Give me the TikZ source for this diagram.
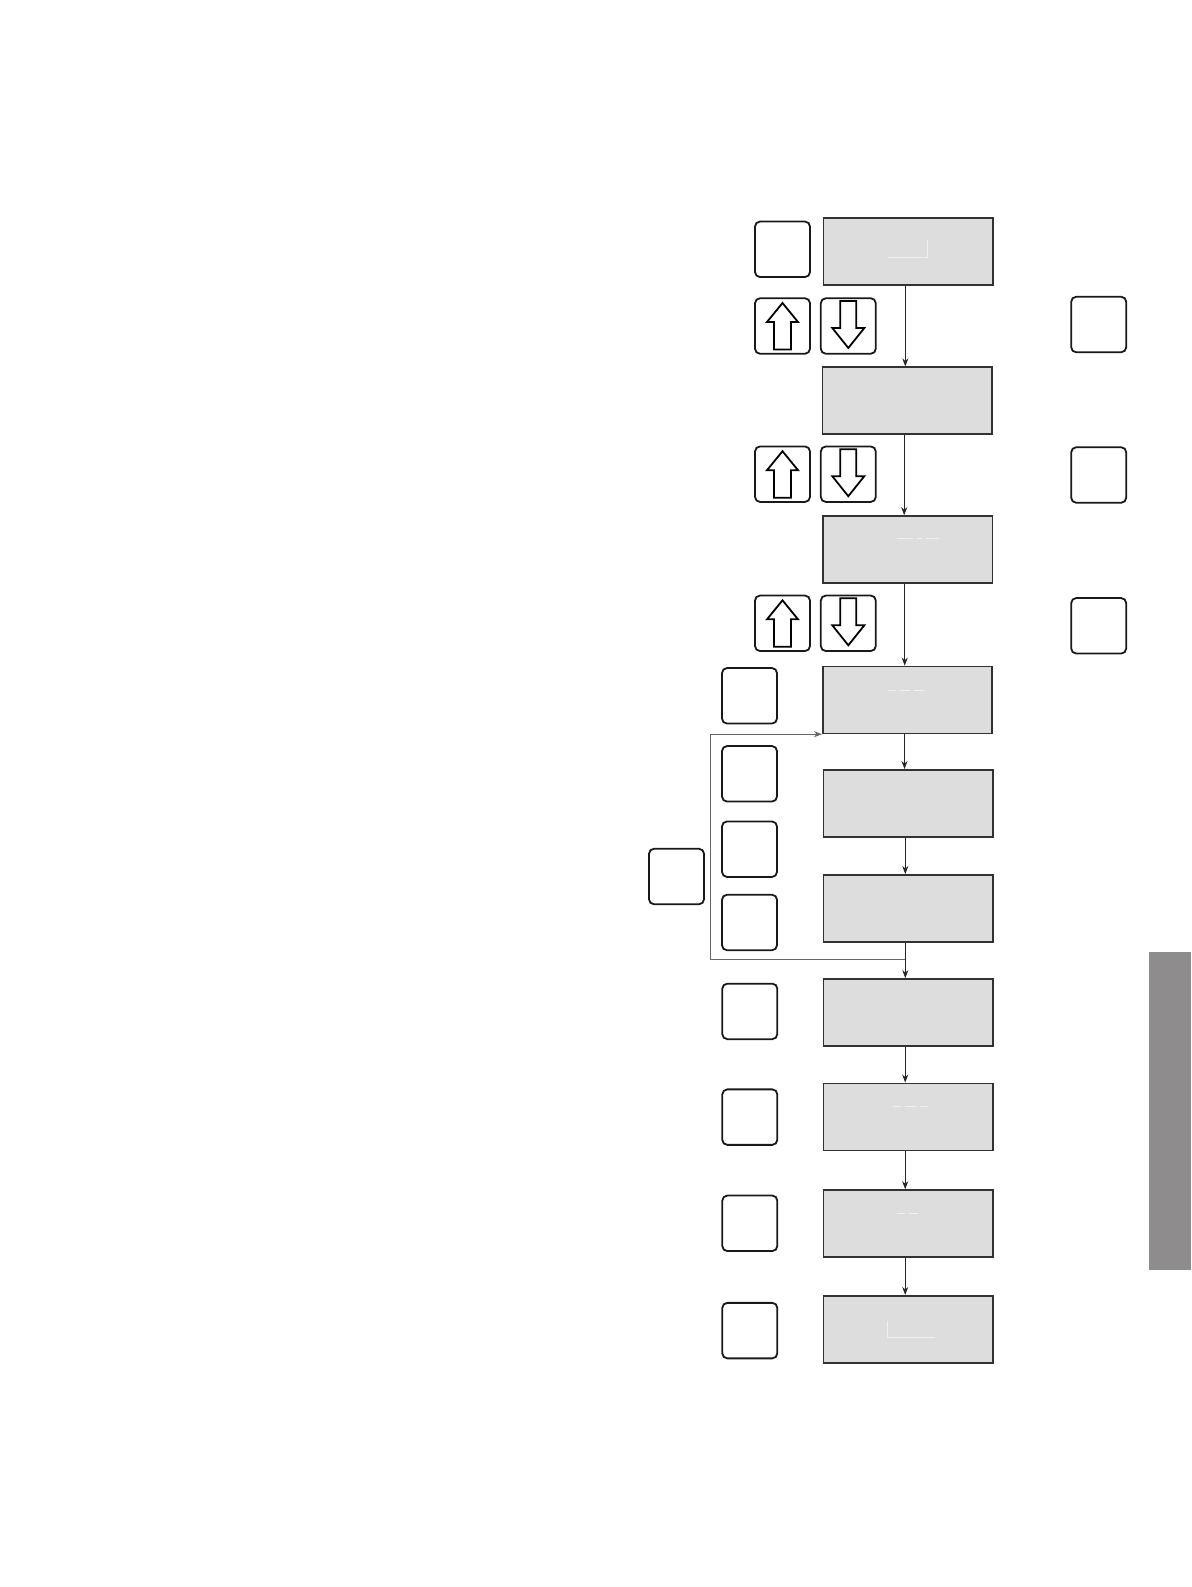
\documentclass[tikz,border=0pt]{standalone}
\usetikzlibrary{arrows.meta}
\definecolor{lcd}{RGB}{221,221,221}
\definecolor{frame}{RGB}{50,50,50}
\definecolor{tabgray}{RGB}{142,140,140}
\definecolor{segc}{RGB}{240,240,240}
\begin{document}
\begin{tikzpicture}[x=1pt,y=-1pt,
 display/.style={draw=frame, line width=1.6pt, fill=lcd, minimum width=169.5pt, minimum height=67pt, inner sep=0pt},
 key/.style={draw=black!90, line width=1.8pt, rounded corners=5pt, minimum width=55pt, minimum height=55.5pt, inner sep=0pt, fill=white},
 flow/.style={draw=black!85, line width=0.8pt, -{Stealth[length=8pt,width=6pt]}},
 loopline/.style={draw=black!60, line width=0.8pt, -{Stealth[length=8pt,width=6pt]}},
 seg/.style={draw=segc, line width=0.6pt},
 glyph/.style={draw=black, line width=1.8pt, line join=miter, fill=white},
 uparrow/.pic={\draw[glyph] (0,-23)--(15.5,-4)--(8.5,-4)--(8.5,23.5)--(-8.5,23.5)--(-8.5,-4)--(-15.5,-4)--cycle;},
 downarrow/.pic={\draw[glyph] (0,22)--(16,2)--(8,2)--(8,-25)--(-8,-25)--(-8,2)--(-16,2)--cycle;}]
\useasboundingbox (0,0) rectangle (1191,1587);
% side tab
\fill[tabgray] (1149,952) rectangle (1191,1270);
% display boxes
\node[display] (box1) at (908.3,251.3) {};
\node[display] (box2) at (907.2,400.7) {};
\node[display] (box3) at (907.7,549.5) {};
\node[display] (box4) at (907.5,699.9) {};
\node[display] (box5) at (908.3,803.3) {};
\node[display] (box6) at (908.3,908.3) {};
\node[display] (box7) at (908.2,1012.4) {};
\node[display] (box8) at (908.2,1116.8) {};
\node[display] (box9) at (908.2,1223.5) {};
\node[display] (box10) at (908.2,1329.2) {};
% faint display segments
\draw[seg] (888,257)--(927.7,257)--(927.7,240);
\draw[seg] (896.7,538.3)--(913,538.3) (917,538.3)--(922,538.3) (926,538.3)--(939.3,538.3);
\draw[seg] (888.3,690.7)--(896,690.7) (900,690.7)--(910,690.7) (914,690.7)--(924,690.7);
\draw[seg] (892.7,1106.7)--(901,1106.7) (905,1106.7)--(916,1106.7) (920,1106.7)--(928.3,1106.7);
\draw[seg] (896.7,1213.3)--(905,1213.3) (909,1213.3)--(918.3,1213.3);
\draw[seg] (887.3,1320.7)--(887.3,1337.3)--(935,1337.3);
% keys
\node[key] (t1) at (782.5,249.3) {};
\node[key] (up1) at (782.5,326) {};
\node[key] (dn1) at (848.3,326) {};
\node[key] (up2) at (782.5,474.2) {};
\node[key] (dn2) at (848.3,474.2) {};
\node[key] (up3) at (782.5,623.3) {};
\node[key] (dn3) at (848.3,623.3) {};
\node[key] (r1) at (1098.7,324.5) {};
\node[key] (r2) at (1098.7,475) {};
\node[key] (r3) at (1098.7,625.8) {};
\node[key] (k4) at (749.5,695.8) {};
\node[key] (kB) at (749.5,773.8) {};
\node[key] (kC) at (749.5,849.2) {};
\node[key] (kD) at (749.5,922.5) {};
\node[key] (big) at (676.5,876.5) {};
\node[key] (kE) at (749.8,1011.4) {};
\node[key] (kF) at (749.8,1117.1) {};
\node[key] (kG) at (749.8,1223.3) {};
\node[key] (kH) at (749.8,1330.6) {};
% arrow glyphs
\pic at (up1) {uparrow};
\pic at (up2) {uparrow};
\pic at (up3) {uparrow};
\pic at (dn1) {downarrow};
\pic at (dn2) {downarrow};
\pic at (dn3) {downarrow};
% flow connectors
\foreach \a/\b in {box1/box2,box2/box3,box3/box4,box4/box5,box5/box6,box6/box7,box7/box8,box8/box9,box9/box10}
  \draw[flow] ([xshift=-3pt]\a.south) -- ([xshift=-3pt]\a.south |- \b.north);
% loop back
\coordinate (j) at ([xshift=-3pt]box6.south |- 0,959.3);
\coordinate (lc) at (710.7,959.3);
\draw[loopline] (j) -- (lc) |- (box4.south west);
\end{tikzpicture}
\end{document}
